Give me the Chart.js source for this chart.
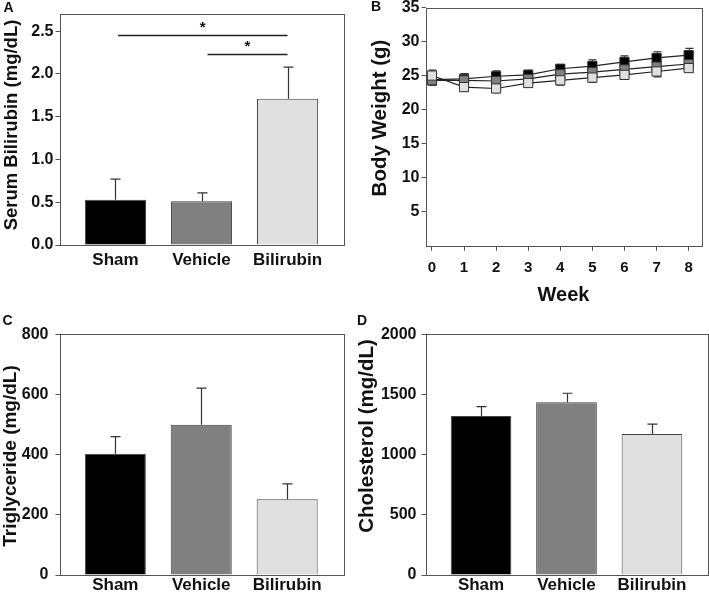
<!DOCTYPE html>
<html>
<head>
<meta charset="utf-8">
<script src="https://cdn.jsdelivr.net/npm/chart.js@4"></script>
<style>
  body { margin: 0; background: #fff; }
  #wrap { position: relative; width: 709px; height: 597px; }
  canvas { position: absolute; left: 0; top: 0; }
</style>
</head>
<body>
<div id="wrap">
  <canvas id="chartA" width="709" height="597"></canvas>
  <canvas id="chartB" width="709" height="597"></canvas>
  <canvas id="chartC" width="709" height="597"></canvas>
  <canvas id="chartD" width="709" height="597"></canvas>
</div>
<script>
// groups on the x-axis of the bar panels
const groups = ['Sham', 'Vehicle', 'Bilirubin'];

// A: serum bilirubin (mean, sem)
const bilirubinMean = [0.53, 0.51, 1.71];
const bilirubinSem = [0.24, 0.10, 0.37];
// significance bars in A (x in group positions, y in mg/dL)
const sigFrom = [1.03, 2.07];
const sigTo = [3, 3];
const sigY = [2.46, 2.23];

// B: body weight per week
const weeks = [0, 1, 2, 3, 4, 5, 6, 7, 8];
const weightSham = [24.4, 24.5, 24.9, 25.1, 26.0, 26.4, 27.0, 27.6, 28.0];
const weightVehicle = [24.3, 24.3, 24.2, 24.5, 25.2, 25.5, 25.9, 26.3, 26.7];
const weightBilirubin = [25.0, 23.3, 23.1, 23.9, 24.3, 24.7, 25.1, 25.6, 26.1];
const weightShamSem = [0.8, 0.8, 0.8, 0.7, 0.6, 0.9, 0.9, 0.9, 1.0];
const weightVehicleSem = [0.7, 0.7, 0.7, 0.6, 0.6, 0.7, 0.7, 0.7, 0.7];
const weightBilirubinSem = [0.8, 0.6, 0.6, 0.6, 0.7, 0.7, 0.6, 0.8, 0.6];

// C: triglyceride
const triglycerideMean = [403, 499, 252];
const triglycerideSem = [57, 122, 51];

// D: cholesterol
const cholesterolMean = [1321, 1435, 1172];
const cholesterolSem = [78, 75, 81];

const fills = ['#000000', '#808080', '#e0e0e0'];
const axisColor = '#555';
const textColor = '#111';
const fontFamily = '"Liberation Sans", Arial, Helvetica, sans-serif';

Chart.defaults.font.family = fontFamily;
Chart.defaults.font.weight = 'bold';
Chart.defaults.color = textColor;

function drawErrors(chart, capHalf) {
  const ctx = chart.ctx;
  const xs = chart.scales.x, ys = chart.scales.y;
  ctx.save();
  ctx.strokeStyle = '#333';
  ctx.lineWidth = 1.2;
  chart.data.datasets.forEach(ds => {
    if (!ds.sem) return;
    ds.data.forEach((p, i) => {
      const x = Math.round(xs.getPixelForValue(p.x)) + 0.5;
      const yTop = ys.getPixelForValue(p.y + ds.sem[i]);
      const yBot = ds.bothWays ? ys.getPixelForValue(p.y - ds.sem[i]) : ys.getPixelForValue(p.y);
      ctx.beginPath();
      ctx.moveTo(x, yBot);
      ctx.lineTo(x, yTop);
      ctx.moveTo(x - capHalf, yTop);
      ctx.lineTo(x + capHalf, yTop);
      if (ds.bothWays) {
        ctx.moveTo(x - capHalf, yBot);
        ctx.lineTo(x + capHalf, yBot);
      }
      ctx.stroke();
    });
  });
  ctx.restore();
}

const decor = {
  id: 'decor',
  beforeDatasetsDraw(chart, args, opts) {
    const ctx = chart.ctx, a = chart.chartArea;
    ctx.save();
    ctx.strokeStyle = axisColor;
    ctx.lineWidth = 1;
    ctx.strokeRect(Math.round(a.left) + 0.5, Math.round(a.top) + 0.5,
      Math.round(a.right - a.left), Math.round(a.bottom - a.top));
    ctx.restore();
    if (opts.errorsBelow) drawErrors(chart, 4);
  },
  afterDatasetsDraw(chart, args, opts) {
    const ctx = chart.ctx;
    if (!opts.errorsBelow) drawErrors(chart, 5);
    if (opts.sig) {
      const xs = chart.scales.x, ys = chart.scales.y;
      ctx.save();
      ctx.strokeStyle = '#222';
      ctx.lineWidth = 1.5;
      ctx.fillStyle = textColor;
      ctx.font = 'bold 15px ' + fontFamily;
      ctx.textAlign = 'center';
      ctx.textBaseline = 'middle';
      sigY.forEach((v, i) => {
        const x1 = xs.getPixelForValue(sigFrom[i]);
        const x2 = xs.getPixelForValue(sigTo[i]);
        const y = Math.round(ys.getPixelForValue(v)) + 0.5;
        ctx.beginPath();
        ctx.moveTo(x1, y);
        ctx.lineTo(x2, y);
        ctx.stroke();
        ctx.fillText('*', (x1 + x2) / 2, y - 8);
      });
      ctx.restore();
    }
  },
  afterDraw(chart, args, opts) {
    const ctx = chart.ctx;
    ctx.save();
    ctx.fillStyle = textColor;
    ctx.textAlign = 'center';
    ctx.textBaseline = 'middle';
    if (opts.letter) {
      ctx.font = 'bold 14px ' + fontFamily;
      ctx.fillText(opts.letter, opts.lx, opts.ly);
    }
    if (opts.yTitle) {
      // y title, rotated, placed where the figure has it
      ctx.translate(opts.tx, opts.ty);
      ctx.rotate(-Math.PI / 2);
      ctx.font = 'bold ' + opts.tSize + 'px ' + fontFamily;
      ctx.fillText(opts.yTitle, 0, 0);
    }
    ctx.restore();
  }
};

// area = [left, top, right, bottom] of the plot box in page pixels
function layoutFor(area, yWidth, xHeight) {
  return {
    padding: {
      left: area[0] - yWidth,
      top: area[1],
      right: 709 - area[2],
      bottom: 597 - area[3] - xHeight
    }
  };
}

function yAxis(min, max, ticks, width, decimals, pad) {
  return {
    type: 'linear',
    min: min,
    max: max,
    afterBuildTicks: s => { s.ticks = ticks.map(v => ({ value: v })); },
    afterFit: s => { s.width = width; s.paddingTop = 0; s.paddingBottom = 0; },
    grid: { drawOnChartArea: false, drawTicks: true, tickLength: 4, color: axisColor, tickColor: axisColor },
    border: { display: false },
    ticks: {
      font: { size: 16, weight: 'bold' },
      padding: pad,
      callback: v => decimals ? v.toFixed(decimals) : String(v)
    }
  };
}

function barChart(id, area, yWidth, means, sems, yOpts, plug, labelPad) {
  return new Chart(document.getElementById(id), {
    type: 'bar',
    data: {
      datasets: [{
        data: means.map((v, i) => ({ x: i + 1, y: v })),
        sem: sems,
        backgroundColor: fills,
        borderColor: '#444',
        borderWidth: 1,
        borderSkipped: 'bottom',
        barPercentage: 0.71,
        categoryPercentage: 1
      }]
    },
    options: {
      responsive: false,
      animation: false,
      layout: layoutFor(area, yWidth, 30),
      scales: {
        x: {
          type: 'linear',
          min: 0.35,
          max: 3.65,
          offset: false,
          afterBuildTicks: s => { s.ticks = groups.map((g, i) => ({ value: i + 1 })); },
          afterFit: s => { s.height = 30; },
          grid: { display: false, drawTicks: false },
          border: { display: false },
          ticks: {
            autoSkip: false,
            maxRotation: 0,
            padding: labelPad,
            font: { size: 17, weight: 'bold' },
            callback: v => groups[v - 1]
          }
        },
        y: yOpts
      },
      plugins: { legend: { display: false }, tooltip: { enabled: false }, decor: plug }
    },
    plugins: [decor]
  });
}

// A
barChart('chartA', [59.5, 14, 343.5, 245], 58, bilirubinMean, bilirubinSem,
  yAxis(0, 2.7, [0, 0.5, 1, 1.5, 2, 2.5], 58, 1, 2),
  { letter: 'A', lx: 8.5, ly: 8.5, sig: true,
    yTitle: 'Serum Bilirubin (mg/dL)', tx: 12, ty: 125, tSize: 18.5 }, 5);

// C
barChart('chartC', [59.5, 334.3, 343, 575], 59.5, triglycerideMean, triglycerideSem,
  yAxis(0, 800, [0, 200, 400, 600, 800], 59.5, 0, 7),
  { letter: 'C', lx: 7.5, ly: 321.5,
    yTitle: 'Triglyceride (mg/dL)', tx: 11, ty: 456, tSize: 19 }, 0);

// D
barChart('chartD', [425.5, 334.3, 707.5, 575], 69, cholesterolMean, cholesterolSem,
  yAxis(0, 2000, [0, 500, 1000, 1500, 2000], 69, 0, 5),
  { letter: 'D', lx: 362, ly: 321.5,
    yTitle: 'Cholesterol (mg/dL)', tx: 367, ty: 436, tSize: 20.5 }, 0);

// B
const weightSeries = [
  { label: 'Sham', values: weightSham, sem: weightShamSem, order: 3 },
  { label: 'Vehicle', values: weightVehicle, sem: weightVehicleSem, order: 2 },
  { label: 'Bilirubin', values: weightBilirubin, sem: weightBilirubinSem, order: 1 }
];
const areaB = [425.5, 5, 707.5, 245.7];
new Chart(document.getElementById('chartB'), {
  type: 'line',
  data: {
    datasets: weightSeries.map((s, i) => ({
      label: s.label,
      data: weeks.map((w, j) => ({ x: w, y: s.values[j] })),
      sem: s.sem,
      bothWays: true,
      order: s.order,
      borderColor: '#222',
      borderWidth: 1.2,
      pointStyle: 'rect',
      pointRadius: 6.5,
      pointBackgroundColor: fills[i],
      pointBorderColor: '#333',
      pointBorderWidth: 1,
      tension: 0
    }))
  },
  options: {
    responsive: false,
    animation: false,
    layout: layoutFor(areaB, 56, 60),
    scales: {
      x: {
        type: 'linear',
        min: -0.2,
        max: 8.4,
        afterBuildTicks: s => { s.ticks = weeks.map(w => ({ value: w })); },
        afterFit: s => { s.height = 60; },
        grid: { drawOnChartArea: false, drawTicks: true, tickLength: 5, color: axisColor, tickColor: axisColor },
        border: { display: false },
        ticks: { autoSkip: false, maxRotation: 0, padding: 8, font: { size: 15, weight: 'bold' } },
        title: {
          display: true,
          text: 'Week',
          font: { size: 20, weight: 'bold', lineHeight: 1 },
          padding: { top: 0, bottom: 0 }
        }
      },
      y: yAxis(0, 35, [5, 10, 15, 20, 25, 30, 35], 56, 0, 2)
    },
    plugins: {
      legend: { display: false },
      tooltip: { enabled: false },
      decor: { letter: 'B', lx: 376, ly: 7.5, errorsBelow: true,
        yTitle: 'Body Weight (g)', tx: 380, ty: 118, tSize: 20.5 }
    }
  },
  plugins: [decor]
});
</script>
</body>
</html>
